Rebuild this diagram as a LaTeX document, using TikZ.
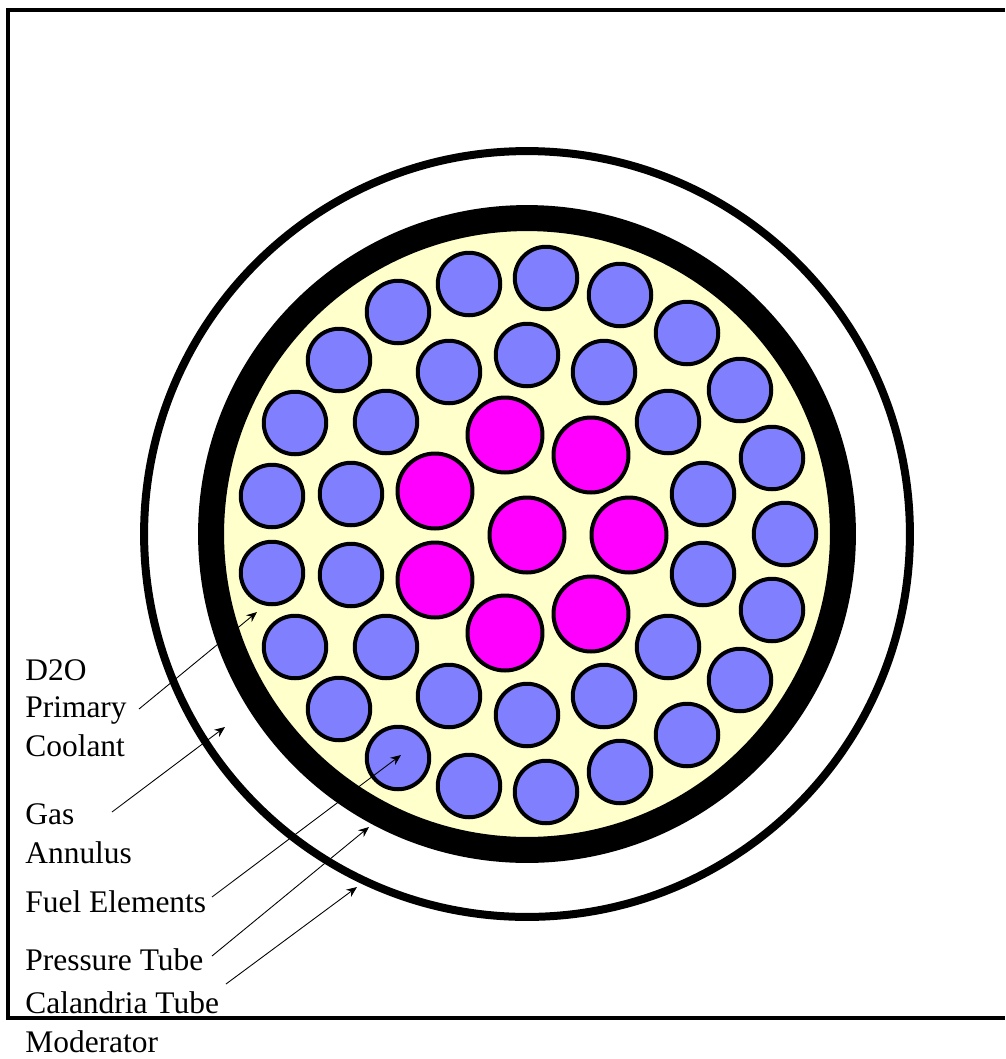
\documentclass[tikz,border=0pt]{standalone}
\usepackage{fontspec}
\setmainfont{Liberation Serif}
\definecolor{rodblue}{RGB}{128,128,255}
\definecolor{rodpink}{RGB}{255,0,255}
\definecolor{coolant}{RGB}{255,255,204}
\usetikzlibrary{arrows.meta}

\begin{document}
\begin{tikzpicture}[x=0.02cm, y=-0.02cm,
    rod/.style={circle, draw, line width=0.08cm, inner sep=0pt, outer sep=0pt},
    bluerod/.style={rod, fill=rodblue, minimum size=1.25cm},
    pinkrod/.style={rod, fill=rodpink, minimum size=1.5cm},
    lbl/.style={anchor=base west, inner sep=0pt, font=\fontsize{17.9}{20}\selectfont},
    lead/.style={line width=0.5pt, -{Stealth[length=6pt,width=5pt]}}]
    \useasboundingbox (0,0) rectangle (1005,1059);

    % Frame, open to the right edge
    \draw[line width=0.07cm] (1005,10) -- (8,10) -- (8,1018) -- (1005,1018);

    % Calandria tube and pressure tube
    \node[circle, draw, line width=0.16cm, inner sep=0pt, outer sep=0pt, minimum size=15.32cm]
      (calandria) at (527,534) {};
    \node[circle, draw, fill=coolant, line width=0.52cm, inner sep=0pt, outer sep=0pt, minimum size=12.64cm]
      (ptube) at (527,534) {};

    % Outer ring of blue rods
    \foreach \x/\y [count=\i] in {469/284,546/278,620/295,687/333,740/390,772/458,785/534,
        772/610,740/680,687/735,620/772,546/792,469/786,398/758,339/709,295/647,
        272/573,272/496,295/423,339/360,398/312}{
      \node[bluerod] (a\i) at (\x,\y) {};
    }
    % Inner ring of blue rods
    \foreach \x/\y [count=\i] in {527/355,604/372,668/422,703/494,703/574,668/647,604/696,
        527/715,449/696,386/647,351/575,351/494,386/422,449/372}{
      \node[bluerod] (b\i) at (\x,\y) {};
    }
    % Pink rods in the centre
    \foreach \x/\y [count=\i] in {505/435,591/455,435/491,527/535,629/535,435/580,505/633,591/614}{
      \node[pinkrod] (c\i) at (\x,\y) {};
    }

    % Labels
    \node[lbl] (d2o) at (25,680) {D2O};
    \node[lbl] (primary) at (25,717) {Primary};
    \node[lbl] (coolantlbl) at (25,756) {Coolant};
    \node[lbl] (gas) at (25,824) {Gas};
    \node[lbl] (annulus) at (25,863) {Annulus};
    \node[lbl] (fuel) at (25,912) {Fuel Elements};
    \node[lbl] (pressure) at (25,970) {Pressure Tube};
    \node[lbl] (calandrialbl) at (25,1013) {Calandria Tube};
    \node[lbl] (moderator) at (25,1052) {Moderator};

    % Leader ends
    \coordinate (d2otail) at (139,709);
    \coordinate (d2otip) at (257,612);
    \coordinate (gastail) at (112,812);
    \coordinate (gastip) at (225,727);
    \coordinate (fueltail) at (212,897);
    \coordinate (fueltip) at (401,755);
    \coordinate (pressuretail) at (212,956);
    \coordinate (pressuretip) at (369,827);
    \coordinate (calandriatail) at (226,984);
    \coordinate (calandriatip) at (357,887);

    % Leaders
    \draw[lead] (d2otail) -- (d2otip);
    \draw[lead] (gastail) -- (gastip);
    \draw[lead] (fueltail) -- (fueltip);
    \draw[lead] (pressuretail) -- (pressuretip);
    \draw[lead] (calandriatail) -- (calandriatip);
\end{tikzpicture}
\end{document}
